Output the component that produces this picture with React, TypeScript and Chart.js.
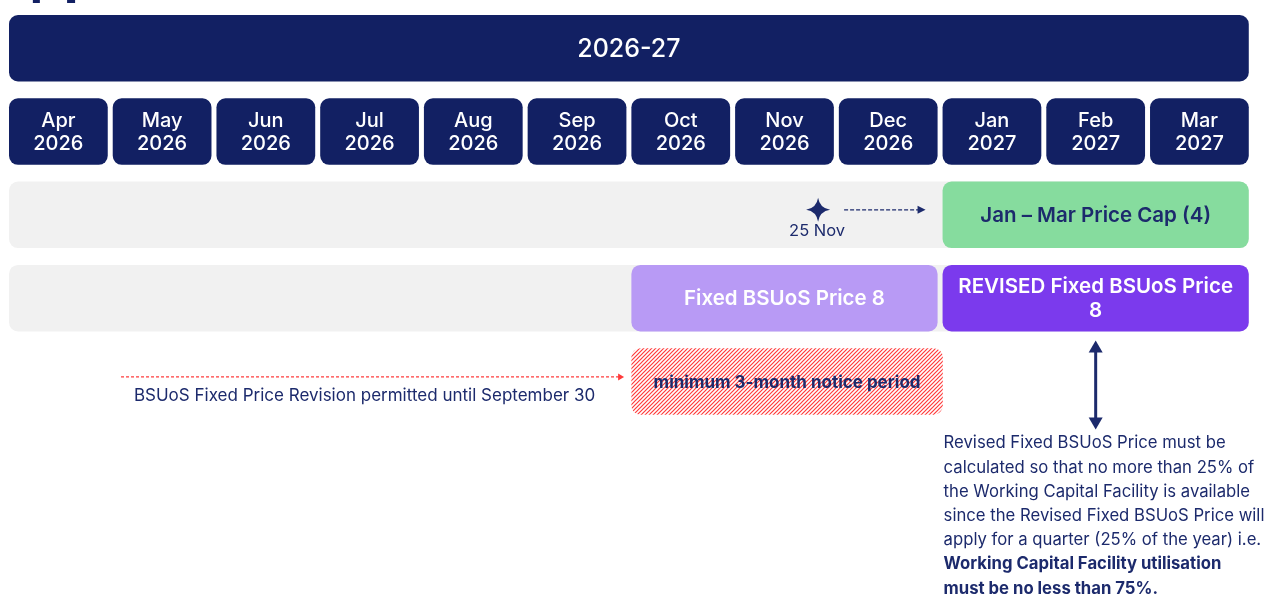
import React, { useEffect, useRef } from 'react';
import { Chart, registerables } from 'chart.js';

Chart.register(...registerables);

// ---------- data ----------
const headerLabel = '2026-27';
const monthNames = ['Apr', 'May', 'Jun', 'Jul', 'Aug', 'Sep', 'Oct', 'Nov', 'Dec', 'Jan', 'Feb', 'Mar'];
const monthYears = ['2026', '2026', '2026', '2026', '2026', '2026', '2026', '2026', '2026', '2027', '2027', '2027'];

// phase bars: row, start month index, end month index
const phaseRows = [2, 3, 2, 3, 3, 4];
const phaseStarts = [0, 0, 9, 6, 9, 6];
const phaseEnds = [12, 12, 12, 9, 12, 9.05];
const phaseKinds = ['track', 'track', 'cap', 'fixed', 'revised', 'notice'];
const phaseLabels = [
  [],
  [],
  ['Jan – Mar Price Cap (4)'],
  ['Fixed BSUoS Price 8'],
  ['REVISED Fixed BSUoS Price', '8'],
  ['minimum 3-month notice period'],
];

// annotations (month units)
const capAnnouncement = 7 + 24 / 30; // 25 Nov
const capAnnouncementLabel = '25 Nov';
const revisionWindow = [1.08, 5.93];
const revisionLabel = 'BSUoS Fixed Price Revision permitted until September 30';
const noteLines = [
  'Revised Fixed BSUoS Price must be',
  'calculated so that no more than 25% of',
  'the Working Capital Facility is available',
  'since the Revised Fixed BSUoS Price will',
  'apply for a quarter (25% of the year) i.e.',
];
const noteBoldLines = ['Working Capital Facility utilisation', 'must be no less than 75%.'];

// ---------- style ----------
const NAVY = '#122063';
const TEXT_NAVY = '#1c2a6c';
const GRAY = '#f1f1f1';
const GREEN = '#86dc9e';
const LIGHT_PURPLE = '#b89af5';
const PURPLE = '#7b3aed';
const RED = '#ff3b3b';
const GAP = 0.048;
const FONT = 'Inter, "Noto Sans", "DejaVu Sans", sans-serif';

function makeHatch(): CanvasPattern | string {
  const c = document.createElement('canvas');
  c.width = 4;
  c.height = 4;
  const g = c.getContext('2d');
  if (!g) return '#ffdddd';
  g.fillStyle = '#ffffff';
  g.fillRect(0, 0, 4, 4);
  g.strokeStyle = RED;
  g.lineWidth = 1.2;
  g.beginPath();
  g.moveTo(0, 4); g.lineTo(4, 0);
  g.moveTo(-1, 1); g.lineTo(1, -1);
  g.moveTo(3, 5); g.lineTo(5, 3);
  g.stroke();
  const p = g.createPattern(c, 'repeat');
  return p || '#ffdddd';
}

export default function App() {
  const ref = useRef<HTMLCanvasElement | null>(null);

  useEffect(() => {
    const canvas = ref.current;
    if (!canvas) return;
    const hatch = makeHatch();

    const kindColor: Record<string, any> = {
      track: GRAY,
      cap: GREEN,
      fixed: LIGHT_PURPLE,
      revised: PURPLE,
      notice: hatch,
    };
    const kindText: Record<string, string> = {
      track: TEXT_NAVY,
      cap: TEXT_NAVY,
      fixed: '#ffffff',
      revised: '#ffffff',
      notice: TEXT_NAVY,
    };

    const bars: any[] = [];
    const colors: any[] = [];
    const labels: { lines: string[]; color: string; font: string; lh: number }[] = [];

    bars.push({ y: 0, x: [0, 12 - GAP] });
    colors.push(NAVY);
    labels.push({ lines: [headerLabel], color: '#ffffff', font: `500 25px ${FONT}`, lh: 0 });

    monthNames.forEach((m, i) => {
      bars.push({ y: 1, x: [i, i + 1 - GAP] });
      colors.push(NAVY);
      labels.push({ lines: [m, monthYears[i]], color: '#ffffff', font: `500 20px ${FONT}`, lh: 23.5 });
    });

    phaseRows.forEach((r, i) => {
      bars.push({ y: r, x: [phaseStarts[i], phaseEnds[i] - GAP] });
      colors.push(kindColor[phaseKinds[i]]);
      const k = phaseKinds[i];
      labels.push({
        lines: phaseLabels[i],
        color: kindText[k],
        font: k === 'notice' ? `700 17px ${FONT}` : `600 20.5px ${FONT}`,
        lh: 24,
      });
    });

    const arrowHead = (ctx: CanvasRenderingContext2D, x: number, y: number, dir: 'r' | 'u' | 'd', len: number, half: number) => {
      ctx.beginPath();
      if (dir === 'r') {
        ctx.moveTo(x, y); ctx.lineTo(x - len, y - half); ctx.lineTo(x - len, y + half);
      } else if (dir === 'u') {
        ctx.moveTo(x, y); ctx.lineTo(x - half, y + len); ctx.lineTo(x + half, y + len);
      } else {
        ctx.moveTo(x, y); ctx.lineTo(x - half, y - len); ctx.lineTo(x + half, y - len);
      }
      ctx.closePath();
      ctx.fill();
    };

    const overlay = {
      id: 'overlay',
      afterDatasetsDraw(chart: any) {
        const ctx: CanvasRenderingContext2D = chart.ctx;
        const xs = chart.scales.x;
        const ys = chart.scales.y;
        const meta = chart.getDatasetMeta(0);
        ctx.save();
        ctx.textAlign = 'center';
        ctx.textBaseline = 'middle';
        meta.data.forEach((el: any, i: number) => {
          const lab = labels[i];
          if (!lab || !lab.lines.length) return;
          const cx = (el.x + el.base) / 2;
          const cy = el.y;
          ctx.font = lab.font;
          ctx.fillStyle = lab.color;
          const n = lab.lines.length;
          lab.lines.forEach((t, j) => {
            ctx.fillText(t, cx, cy + (j - (n - 1) / 2) * lab.lh + 1);
          });
        });

        // top logo fragment
        ctx.fillStyle = NAVY;
        ctx.fillRect(xs.getPixelForValue(0.23), 0, 7, 3);
        ctx.fillRect(xs.getPixelForValue(0.56), 0, 8, 3);

        // star for 25 Nov
        const sx = xs.getPixelForValue(capAnnouncement);
        const sy = ys.getPixelForValue(2) - 5;
        const r = 12;
        const k = 1.6;
        ctx.fillStyle = TEXT_NAVY;
        ctx.beginPath();
        ctx.moveTo(sx, sy - r);
        ctx.quadraticCurveTo(sx + k, sy - k, sx + r, sy);
        ctx.quadraticCurveTo(sx + k, sy + k, sx, sy + r);
        ctx.quadraticCurveTo(sx - k, sy + k, sx - r, sy);
        ctx.quadraticCurveTo(sx - k, sy - k, sx, sy - r);
        ctx.closePath();
        ctx.fill();
        ctx.font = `400 16.5px ${FONT}`;
        ctx.fillText(capAnnouncementLabel, sx - 1, sy + 21);

        // dashed arrow to the price cap box
        const capStart = xs.getPixelForValue(9);
        ctx.strokeStyle = TEXT_NAVY;
        ctx.lineWidth = 1.4;
        ctx.setLineDash([4, 2]);
        ctx.beginPath();
        ctx.moveTo(sx + 26, sy);
        ctx.lineTo(capStart - 24, sy);
        ctx.stroke();
        ctx.setLineDash([]);
        arrowHead(ctx, capStart - 17, sy, 'r', 8, 4);

        // red dashed revision arrow
        const ry = ys.getPixelForValue(4) - 4.5;
        const rx0 = xs.getPixelForValue(revisionWindow[0]);
        const rx1 = xs.getPixelForValue(revisionWindow[1]);
        ctx.strokeStyle = RED;
        ctx.fillStyle = RED;
        ctx.lineWidth = 1.2;
        ctx.setLineDash([3, 2]);
        ctx.beginPath();
        ctx.moveTo(rx0, ry);
        ctx.lineTo(rx1 - 4, ry);
        ctx.stroke();
        ctx.setLineDash([]);
        arrowHead(ctx, rx1, ry, 'r', 6, 3.5);
        ctx.fillStyle = TEXT_NAVY;
        ctx.font = `400 17px ${FONT}`;
        ctx.fillText(revisionLabel, (rx0 + rx1) / 2 - 8, ry + 19);

        // double arrow
        const ax = (xs.getPixelForValue(9) + xs.getPixelForValue(12 - GAP)) / 2;
        const ay0 = ys.getPixelForValue(3) + 33.25 + 9;
        const ay1 = ys.getPixelForValue(4) + 48;
        ctx.strokeStyle = TEXT_NAVY;
        ctx.fillStyle = TEXT_NAVY;
        ctx.lineWidth = 3;
        ctx.beginPath();
        ctx.moveTo(ax, ay0 + 8);
        ctx.lineTo(ax, ay1 - 8);
        ctx.stroke();
        arrowHead(ctx, ax, ay0, 'u', 12, 7);
        arrowHead(ctx, ax, ay1, 'd', 12, 7);

        // note paragraph
        const nx = xs.getPixelForValue(9) + 1;
        let ny = ys.getPixelForValue(4) + 62;
        ctx.textAlign = 'left';
        ctx.font = `400 16.7px ${FONT}`;
        noteLines.forEach((t) => {
          ctx.fillText(t, nx, ny);
          ny += 24.2;
        });
        ctx.font = `700 16.7px ${FONT}`;
        noteBoldLines.forEach((t) => {
          ctx.fillText(t, nx, ny);
          ny += 24.2;
        });
        ctx.restore();
      },
    };

    const pitch = 103.73;
    const rowPitch = 83.3;
    const chart = new Chart(canvas, {
      type: 'bar',
      data: {
        datasets: [
          {
            data: bars,
            backgroundColor: colors,
            borderRadius: 9,
            borderSkipped: false,
            borderWidth: 0,
            barThickness: 66.5,
            grouped: false,
            inflateAmount: 0,
          } as any,
        ],
      },
      options: {
        indexAxis: 'y',
        responsive: false,
        animation: false,
        devicePixelRatio: 1,
        layout: { padding: 0 },
        events: [],
        plugins: { legend: { display: false }, tooltip: { enabled: false } },
        scales: {
          x: { type: 'linear', display: false, offset: false, min: -9 / pitch, max: (1266 - 9) / pitch },
          y: {
            type: 'linear',
            display: false,
            offset: false,
            reverse: true,
            min: -48.25 / rowPitch,
            max: (594 - 48.25) / rowPitch,
          },
        },
      } as any,
      plugins: [overlay],
    });
    return () => chart.destroy();
  }, []);

  return (
    <div style={{ position: 'fixed', left: 0, top: 0, width: 1266, height: 594, background: '#ffffff' }}>
      <canvas ref={ref} width={1266} height={594} style={{ display: 'block' }} />
    </div>
  );
}
